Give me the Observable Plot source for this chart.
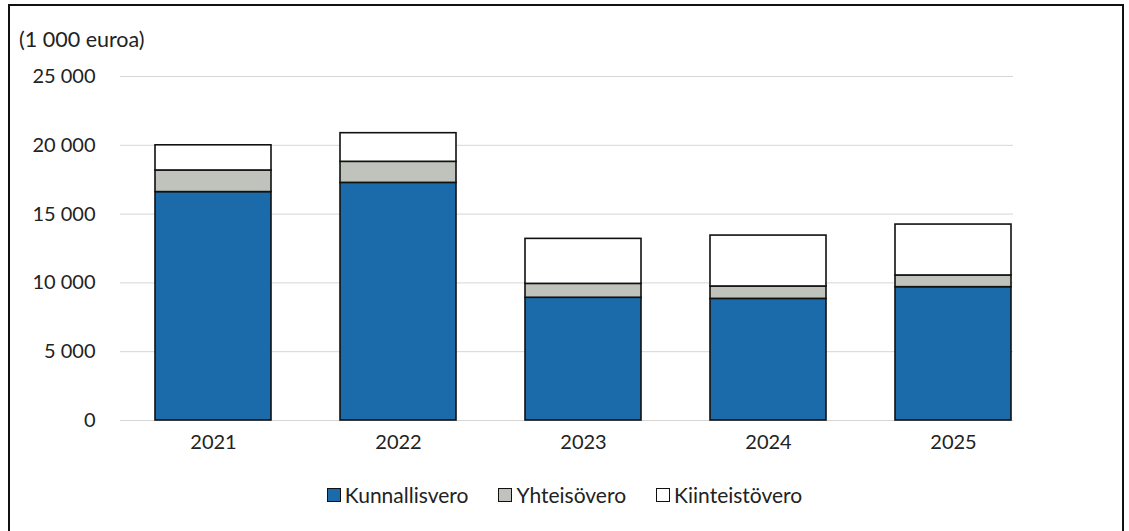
<!DOCTYPE html>
<html>
<head>
<meta charset="utf-8">
<script src="https://cdn.jsdelivr.net/npm/d3@7"></script>
<script src="https://cdn.jsdelivr.net/npm/@observablehq/plot@0.6"></script>
<style>
  html, body { margin: 0; padding: 0; background: #fff; }
  #wrap { position: relative; width: 1129px; height: 531px; overflow: hidden; font-family: Lato, "Open Sans", sans-serif; color: #222; }
  #frame { position: absolute; left: 8px; top: 4px; width: 1116px; height: 540px; border: 2px solid #111; box-sizing: border-box; }
  #title { position: absolute; left: 19px; top: 26px; font-size: 21.5px; }
  #chart { position: absolute; left: 0; top: 0; }
  #legend { position: absolute; top: 482px; left: 0; width: 1129px; display: flex; justify-content: center; font-size: 21px; gap: 0; }
  .item { display: flex; align-items: center; margin: 0 15px; }
  .sw { width: 12px; height: 12px; border: 1.5px solid #111; margin-right: 4px; }
</style>
</head>
<body>
<div id="wrap">
  <div id="chart"></div>
  <div id="frame"></div>
  <div id="title">(1 000 euroa)</div>
  <div id="legend"></div>
</div>
<script>
const years = ["2021", "2022", "2023", "2024", "2025"];
const seriesNames = ["Kunnallisvero", "Yhteisövero", "Kiinteistövero"];
const kunnallisvero = [16600, 17270, 8920, 8840, 9690];
const yhteisovero = [1570, 1530, 1010, 900, 850];
const kiinteistovero = [1830, 2080, 3270, 3700, 3700];
const yTicks = [0, 5000, 10000, 15000, 20000, 25000];
const colors = ["#1b6bab", "#bfc3bb", "#ffffff"];

const seriesValues = [kunnallisvero, yhteisovero, kiinteistovero];
const data = [];
seriesNames.forEach((s, i) => years.forEach((y, j) => data.push({year: y, series: s, value: seriesValues[i][j]})));

const fmt = d => d3.format(",")(d).replace(/,/g, " ");

const plot = Plot.plot({
  width: 1129,
  height: 531,
  marginLeft: 120,
  marginRight: 84,
  marginTop: 76,
  marginBottom: 111,
  style: {fontFamily: "Lato, 'Open Sans', sans-serif", fontSize: "20px", color: "#222", background: "transparent"},
  x: {domain: years, paddingInner: 0.373, paddingOuter: 0.1865, label: null, tickSize: 0, tickPadding: 14},
  y: {domain: [0, 25000], ticks: yTicks, tickFormat: fmt, label: null, tickSize: 0, tickPadding: 25},
  color: {domain: seriesNames, range: colors},
  marks: [
    Plot.ruleY(yTicks, {stroke: "#d6d6d6", strokeWidth: 1, insetRight: 32}),
    Plot.barY(data, {x: "year", y: "value", fill: "series", stroke: "#111", strokeWidth: 1.6})
  ]
});
document.getElementById("chart").appendChild(plot);

const legend = document.getElementById("legend");
seriesNames.forEach((s, i) => {
  const it = document.createElement("div");
  it.className = "item";
  const sw = document.createElement("div");
  sw.className = "sw";
  sw.style.background = colors[i];
  const tx = document.createElement("span");
  tx.textContent = s;
  it.appendChild(sw); it.appendChild(tx);
  legend.appendChild(it);
});
</script>
</body>
</html>
